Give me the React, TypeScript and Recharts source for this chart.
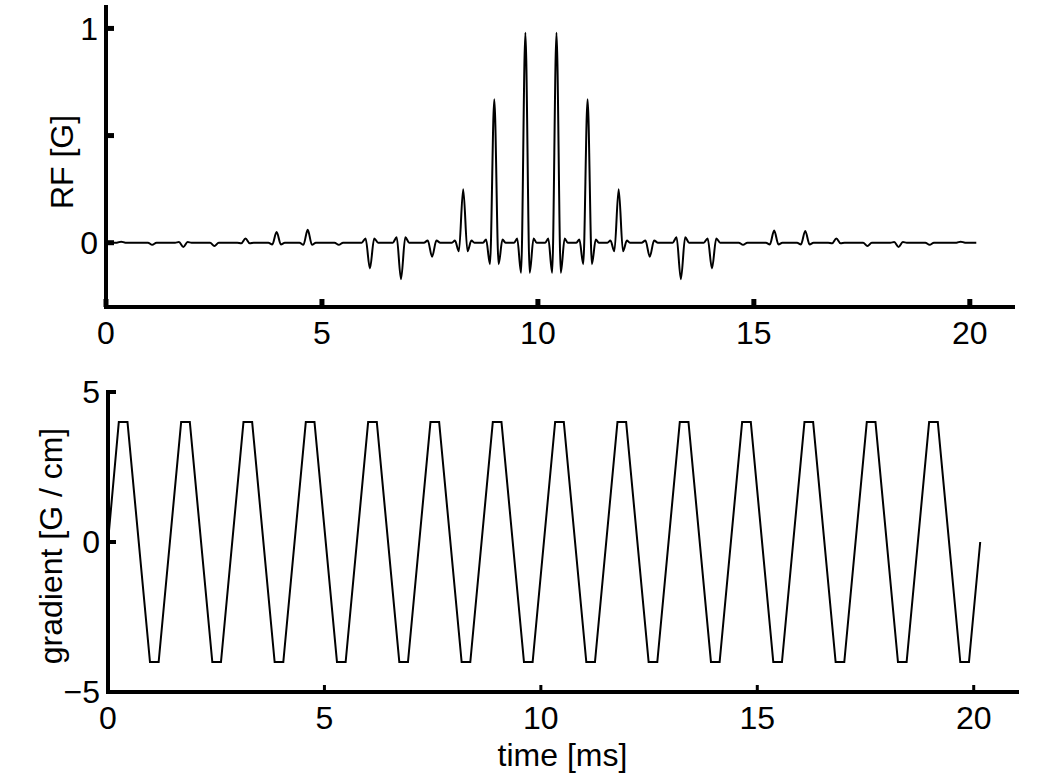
import { LineChart, Line, XAxis, YAxis } from "recharts";

// centres of the gradient lobes / RF subpulses, ms
const lobeTimes = [
  0.35, 1.07, 1.79, 2.51, 3.23, 3.95, 4.67, 5.39, 6.11, 6.83, 7.55, 8.27, 8.99, 9.71,
  10.43, 11.15, 11.87, 12.59, 13.31, 14.03, 14.75, 15.47, 16.19, 16.91, 17.63, 18.35, 19.07, 19.79,
];
// RF subpulse main lobe, first side lobe, second side lobe [G]
const rfMain = [
  0.005, -0.01, -0.02, -0.015, 0.02, 0.05, 0.06, -0.01, -0.12, -0.17, -0.065, 0.25, 0.67, 0.98,
  0.98, 0.67, 0.25, -0.065, -0.17, -0.12, -0.01, 0.057, 0.055, 0.02, -0.015, -0.02, -0.01, 0.005,
];
const rfSide = [
  0, 0, 0.003, 0, -0.003, -0.008, -0.01, 0, 0.02, 0.025, 0.01, -0.04, -0.1, -0.14,
  -0.14, -0.1, -0.04, 0.01, 0.025, 0.02, 0, -0.008, -0.008, -0.003, 0, 0.003, 0, 0,
];
const rfOuter = [
  0, 0, 0, 0, 0, 0, 0, 0, 0, 0, 0, 0.01, 0.015, 0.02,
  0.02, 0.015, 0.01, 0, 0, 0, 0, 0, 0, 0, 0, 0, 0, 0,
];
// gradient plateau level of each lobe [G/cm]
const gradPlateau = [
  4, -4, 4, -4, 4, -4, 4, -4, 4, -4, 4, -4, 4, -4,
  4, -4, 4, -4, 4, -4, 4, -4, 4, -4, 4, -4, 4, -4,
];
const pulseEnd = 20.15;

// subpulse shape: offsets from the lobe centre (ms)
const lobeOffsets = [-0.26, -0.19, -0.1, 0, 0.1, 0.19, 0.26];
const plateauHalf = 0.1;

const timeTicks = [0, 5, 10, 15, 20];
const rfTicks = [0, 0.5, 1];
const gradTicks = [-5, 0, 5];

const rfData: { t: number; rf: number }[] = [{ t: 0, rf: 0 }];
lobeTimes.forEach((t, i) => {
  const vals = [0, rfOuter[i], rfSide[i], rfMain[i], rfSide[i], rfOuter[i], 0];
  lobeOffsets.forEach((o, j) => rfData.push({ t: +(t + o).toFixed(3), rf: vals[j] }));
});
rfData.push({ t: pulseEnd, rf: 0 });

const gradData: { t: number; g: number }[] = [{ t: 0, g: 0 }];
lobeTimes.forEach((t, i) => {
  gradData.push({ t: +(t - plateauHalf).toFixed(3), g: gradPlateau[i] });
  gradData.push({ t: +(t + plateauHalf).toFixed(3), g: gradPlateau[i] });
});
gradData.push({ t: pulseEnd, g: 0 });

const font = {
  fontFamily: "'Liberation Sans', Arial, Helvetica, sans-serif",
  fontSize: 32,
  fill: "#000",
};

const fmt = (v: number) => (v < 0 ? "\u2212" + Math.abs(v) : String(v));

const sideLabel = (text: string, dx: number, dy: number) => (props: any) => {
  const { x, y, height } = props.viewBox;
  const cx = x + dx;
  const cy = y + height / 2 + dy;
  return (
    <text
      x={cx}
      y={cy}
      transform={`rotate(-90 ${cx} ${cy})`}
      textAnchor="middle"
      dominantBaseline="central"
      style={font}
    >
      {text}
    </text>
  );
};

const bottomLabel = (text: string, dy: number) => (props: any) => {
  const { x, y, width } = props.viewBox;
  return (
    <text x={x + width / 2} y={y + dy} textAnchor="middle" dominantBaseline="central" style={font}>
      {text}
    </text>
  );
};

export default function App() {
  return (
    <div style={{ position: "relative", width: 1050, height: 784, background: "#fff" }}>
      <style>{"body{margin:0}"}</style>

      <div style={{ position: "absolute", left: 0, top: 0 }}>
        <LineChart width={1050} height={380} data={rfData} margin={{ top: 7, right: 37, bottom: 0, left: 36 }}>
          <XAxis
            dataKey="t"
            type="number"
            domain={[0, 21]}
            ticks={timeTicks}
            height={73}
            tickSize={-8}
            tickMargin={22}
            tick={font}
            axisLine={{ stroke: "#000", strokeWidth: 4, strokeLinecap: "square" }}
            tickLine={{ stroke: "#000", strokeWidth: 5 }}
          />
          <YAxis
            type="number"
            domain={[-0.3, 1.1]}
            ticks={rfTicks}
            width={70}
            tickSize={-8}
            tickMargin={16}
            tick={font}
            tickFormatter={(v: number) => (v === 0.5 ? "" : fmt(v))}
            axisLine={{ stroke: "#000", strokeWidth: 4, strokeLinecap: "square" }}
            tickLine={{ stroke: "#000", strokeWidth: 5 }}
            label={{ content: sideLabel("RF [G]", 26, 5) }}
          />
          <Line
            type="monotone"
            dataKey="rf"
            stroke="#000"
            strokeWidth={2}
            dot={false}
            isAnimationActive={false}
          />
        </LineChart>
      </div>

      <div style={{ position: "absolute", left: 0, top: 370 }}>
        <LineChart width={1050} height={414} data={gradData} margin={{ top: 22, right: 33, bottom: 0, left: 38 }}>
          <XAxis
            dataKey="t"
            type="number"
            domain={[0, 21]}
            ticks={timeTicks}
            height={92}
            tickSize={-7}
            tickMargin={21}
            tick={font}
            axisLine={{ stroke: "#000", strokeWidth: 4, strokeLinecap: "square" }}
            tickLine={{ stroke: "#000", strokeWidth: 3 }}
            label={{ content: bottomLabel("time [ms]", 63) }}
          />
          <YAxis
            type="number"
            domain={[-5, 5]}
            ticks={gradTicks}
            width={70}
            tickSize={-8}
            tickMargin={16}
            tick={font}
            tickFormatter={fmt}
            axisLine={{ stroke: "#000", strokeWidth: 4, strokeLinecap: "square" }}
            tickLine={{ stroke: "#000", strokeWidth: 4 }}
            label={{ content: sideLabel("gradient [G / cm]", 13, 4) }}
          />
          <Line
            type="linear"
            dataKey="g"
            stroke="#000"
            strokeWidth={2}
            dot={false}
            isAnimationActive={false}
          />
        </LineChart>
      </div>
    </div>
  );
}
